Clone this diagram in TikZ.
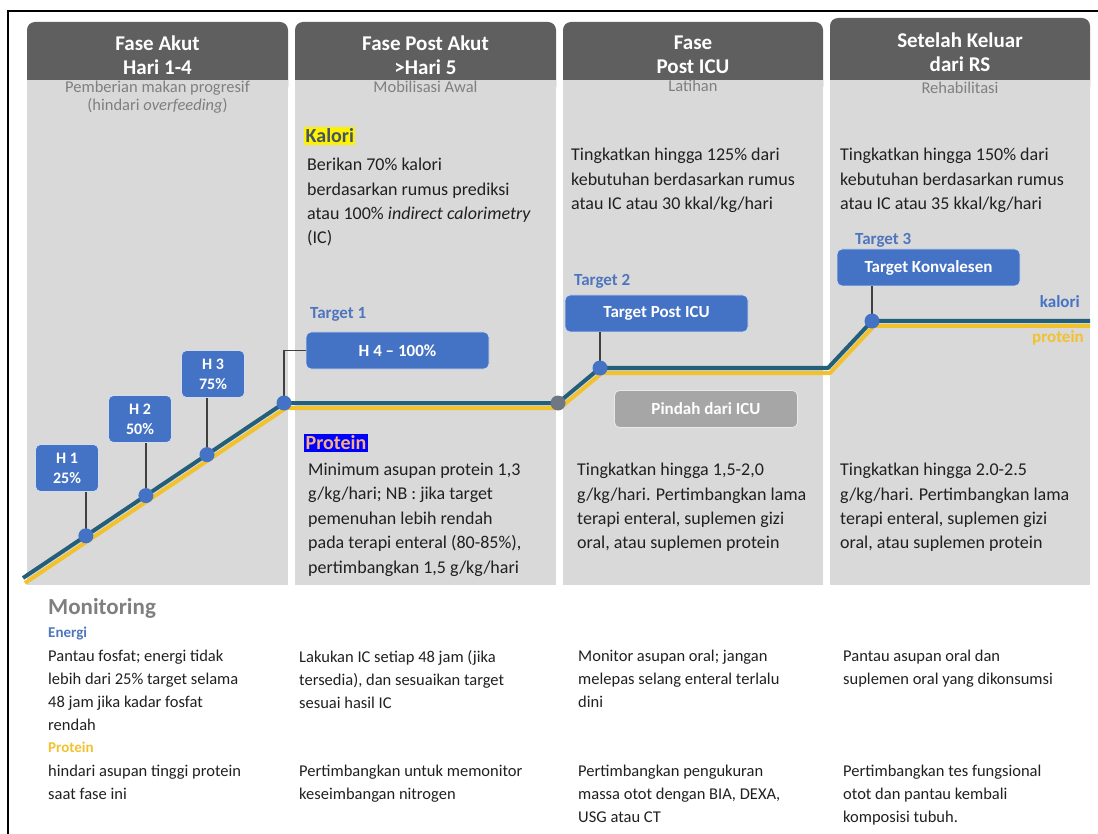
\documentclass[tikz,border=0pt]{standalone}
\usepackage{fontspec}
\setmainfont{Carlito}
\usetikzlibrary{calc}
\definecolor{headGrey}{HTML}{5F5F5F}
\definecolor{bodyGrey}{HTML}{D9D9D9}
\definecolor{subGrey}{HTML}{7F7F7F}
\definecolor{textDark}{HTML}{202020}
\definecolor{boxBlue}{HTML}{4472C4}
\definecolor{labelBlue}{HTML}{4F76BD}
\definecolor{kaloriTeal}{HTML}{235F78}
\definecolor{proteinGold}{HTML}{F2C12E}
\definecolor{dotGrey}{HTML}{6F7785}
\definecolor{pindahGrey}{HTML}{A6A6A6}
\definecolor{kaloriInk}{HTML}{44546A}
\definecolor{proteinInk}{HTML}{F4B183}
\definecolor{pinGrey}{HTML}{404040}

\begin{document}
\begin{tikzpicture}[
  x=1pt, y=-1pt,
  headText/.style={text=white, font=\bfseries\fontsize{21}{24}\selectfont, align=center, inner sep=0pt},
  subText/.style={text=subGrey, font=\fontsize{16.5}{18}\selectfont, align=center, anchor=north, inner sep=0pt},
  bodyText/.style={text=textDark, font=\fontsize{18}{24.4}\selectfont, align=left, anchor=north west, inner sep=0pt},
  monText/.style={text=textDark, font=\fontsize{16.5}{23}\selectfont, align=left, anchor=north west, inner sep=0pt},
  dayBox/.style={fill=boxBlue, draw=white!75!boxBlue, line width=0.8pt, rounded corners=5pt,
    text=white, font=\bfseries\fontsize{16}{20}\selectfont, align=center,
    minimum width=63pt, minimum height=47pt, inner sep=0pt},
  targetBox/.style={dayBox, minimum width=183pt, minimum height=37pt, font=\bfseries\fontsize{17}{20}\selectfont},
  targetLabel/.style={text=labelBlue, font=\bfseries\fontsize{17}{20}\selectfont, anchor=west, inner sep=0pt},
  pinLine/.style={draw=pinGrey, line width=1.2pt},
  markDot/.style={circle, fill=boxBlue, minimum size=15pt, inner sep=0pt},
  kaloriLine/.style={draw=kaloriTeal, line width=4pt, line join=round},
  proteinLine/.style={draw=proteinGold, line width=4pt, line join=round},
]
\useasboundingbox (0,0) rectangle (1098,834);
\draw[line width=1.5pt] (8,834) -- (8,11) -- (1098,11);

% columns
\foreach \xl/\xr/\yt in {27/288/22, 295/556/22, 563/823/22, 830/1090/18} {
  \fill[headGrey, rounded corners=8pt] (\xl,\yt) rectangle (\xr,95);
  \fill[bodyGrey] (\xl,80) rectangle (\xr,585);
}
\node[headText] (head1) at (157.5,55) {Fase Akut\\Hari 1-4};
\node[headText] (head2) at (425.5,55) {Fase Post Akut\\>Hari 5};
\node[headText] (head3) at (693,55) {Fase\\Post ICU};
\node[headText] (head4) at (960,52) {Setelah Keluar\\dari RS};
\node[subText] (sub1) at (157.5,81) {Pemberian makan progresif\\(hindari \textit{overfeeding})};
\node[subText] (sub2) at (425.5,81) {Mobilisasi Awal};
\node[subText] (sub3) at (693,80) {Latihan};
\node[subText] (sub4) at (960,82) {Rehabilitasi};

\node[fill=yellow, text=kaloriInk, font=\bfseries\fontsize{20}{22}\selectfont, inner sep=1.5pt, anchor=west] (kaloriHead) at (304,136) {Kalori};
\node[bodyText] (kalori2) at (307,158) {Berikan 70\% kalori\\berdasarkan rumus prediksi\\atau 100\% \textit{indirect calorimetry}\\(IC)};
\node[bodyText] (kalori3) at (571,148) {Tingkatkan hingga 125\% dari\\kebutuhan berdasarkan rumus\\atau IC atau 30 kkal/kg/hari};
\node[bodyText] (kalori4) at (840,148) {Tingkatkan hingga 150\% dari\\kebutuhan berdasarkan rumus\\atau IC atau 35 kkal/kg/hari};

\node[fill=blue, text=proteinInk, font=\bfseries\fontsize{20}{22}\selectfont, inner sep=1.5pt, anchor=west] (proteinHead) at (304,443) {Protein};
\node[bodyText] (protein2) at (308,463) {Minimum asupan protein 1,3\\g/kg/hari; NB : jika target\\pemenuhan lebih rendah\\pada terapi enteral (80-85\%),\\pertimbangkan 1,5 g/kg/hari};
\node[bodyText] (protein3) at (577,463) {Tingkatkan hingga 1,5-2,0\\g/kg/hari. Pertimbangkan lama\\terapi enteral, suplemen gizi\\oral, atau suplemen protein};
\node[bodyText] (protein4) at (840,463) {Tingkatkan hingga 2.0-2.5\\g/kg/hari. Pertimbangkan lama\\terapi enteral, suplemen gizi\\oral, atau suplemen protein};

% kalori and protein curves
\coordinate (k0) at (23,578);
\coordinate (dotT1) at (284,403);
\coordinate (dotG) at (558,403);
\coordinate (dotT2) at (600,368);
\coordinate (k4) at (828,368);
\coordinate (dotT3) at (872,321);
\coordinate (kEnd) at (1090,321);
\draw[proteinLine] ($(k0)+(2,5)$) -- ($(dotT1)+(2,5)$) -- ($(dotG)+(2,5)$) -- ($(dotT2)+(2,5)$)
  -- ($(k4)+(2,5)$) -- ($(dotT3)+(2,5)$) -- ($(kEnd)+(0,5)$);
\draw[kaloriLine] (k0) -- (dotT1) -- (dotG) -- (dotT2) -- (k4) -- (dotT3) -- (kEnd);
\node[text=boxBlue, font=\bfseries\fontsize{17}{20}\selectfont, anchor=east, inner sep=0pt] (kaloriTag) at (1080,302) {kalori};
\node[text=proteinGold, font=\bfseries\fontsize{17}{20}\selectfont, anchor=east, inner sep=0pt] (proteinTag) at (1084,338) {protein};

\foreach \t/\lbl/\bx/\by [count=\i] in {0.241/{H 1\\25\%}/67/468, 0.471/{H 2\\50\%}/140/419, 0.705/{H 3\\75\%}/213/374} {
  \coordinate (hd\i) at ($(k0)!\t!(dotT1)$);
  \node[dayBox] (h\i) at (\bx,\by) {\lbl};
  \draw[pinLine] (hd\i) -- (hd\i |- h\i.south);
  \node[markDot] at (hd\i) {};
}

\node[targetLabel] (t1Label) at (310,314) {Target 1};
\node[targetBox] (t1) at (397.5,350.5) {H 4 -- 100\%};
\draw[pinLine] (dotT1) |- (t1.west);
\node[targetLabel] (t2Label) at (574,281) {Target 2};
\node[targetBox] (t2) at (656.5,313.5) {Target Post ICU};
\draw[pinLine] (dotT2) -- (dotT2 |- t2.south);
\node[targetLabel] (t3Label) at (855,240) {Target 3};
\node[targetBox] (t3) at (928.5,267.5) {Target Konvalesen};
\draw[pinLine] (dotT3) -- (dotT3 |- t3.south);
\node[markDot] at (dotT1) {};
\node[markDot] at (dotT2) {};
\node[markDot] at (dotT3) {};
\node[markDot, fill=dotGrey] at (dotG) {};
\node[targetBox, fill=pindahGrey, draw=white!75!pindahGrey] (pindah) at (706,409) {Pindah dari ICU};

% monitoring
\node[text=subGrey, font=\bfseries\fontsize{23}{26}\selectfont, anchor=west, inner sep=0pt] (monTitle) at (48,608) {Monitoring};
\node[text=labelBlue, font=\bfseries\fontsize{15}{18}\selectfont, anchor=west, inner sep=0pt] (energiHead) at (48,634) {Energi};
\node[monText] (energi1) at (48,650) {Pantau fosfat; energi tidak\\lebih dari 25\% target selama\\48 jam jika kadar fosfat\\rendah};
\node[monText] (energi2) at (299,650) {Lakukan IC setiap 48 jam (jika\\tersedia), dan sesuaikan target\\sesuai hasil IC};
\node[monText] (energi3) at (578,650) {Monitor asupan oral; jangan\\melepas selang enteral terlalu\\dini};
\node[monText] (energi4) at (843,650) {Pantau asupan oral dan\\suplemen oral yang dikonsumsi};
\node[text=proteinGold, font=\bfseries\fontsize{15}{18}\selectfont, anchor=west, inner sep=0pt] (proteinMon) at (48,747) {Protein};
\node[monText] (pmon1) at (48,765) {hindari asupan tinggi protein\\saat fase ini};
\node[monText] (pmon2) at (299,765) {Pertimbangkan untuk memonitor\\keseimbangan nitrogen};
\node[monText] (pmon3) at (578,765) {Pertimbangkan pengukuran\\massa otot dengan BIA, DEXA,\\USG atau CT};
\node[monText] (pmon4) at (843,765) {Pertimbangkan tes fungsional\\otot dan pantau kembali\\komposisi tubuh.};
\end{tikzpicture}
\end{document}
